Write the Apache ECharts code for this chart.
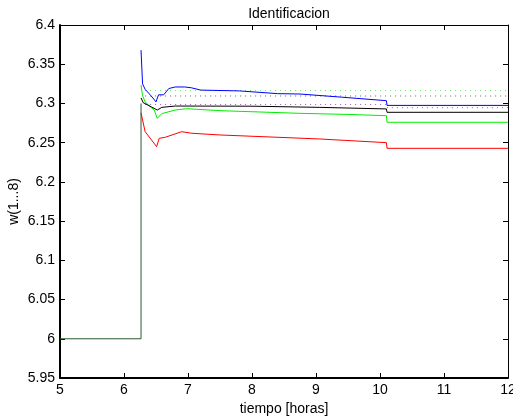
<!DOCTYPE html>
<html>
<head>
<meta charset="UTF-8">
<title>Identificacion</title>
<script src="https://cdn.jsdelivr.net/npm/echarts@6/dist/echarts.min.js"></script>
<style>
html,body{margin:0;padding:0;background:#fff;}
#main{width:513px;height:419px;}
</style>
</head>
<body>
<div id="main"></div>
<script type="text/javascript">
// tramo inicial comun (todas las w arrancan en 6)
var tInicial = [5, 6.266, 6.266];
var wInicial = [6, 6, 6.30];

// w1 (azul)
var tAzul = [6.266, 6.29, 6.33, 6.42, 6.50, 6.52, 6.54, 6.62, 6.70, 6.80, 6.95, 7.05, 7.20, 7.50, 7.80, 8.40, 8.75, 9.40, 10.10, 10.11, 12];
var wAzul = [6.368, 6.325, 6.318, 6.310, 6.302, 6.300, 6.311, 6.311, 6.319, 6.321, 6.321, 6.320, 6.317, 6.3165, 6.316, 6.3125, 6.312, 6.308, 6.3035, 6.2975, 6.2975];

// w2 (verde)
var tVerde = [6.266, 6.29, 6.33, 6.42, 6.47, 6.52, 6.59, 6.80, 6.98, 7.50, 8.75, 9.50, 10.10, 10.11, 12];
var wVerde = [6.3235, 6.310, 6.302, 6.295, 6.292, 6.281, 6.287, 6.2916, 6.2933, 6.2908, 6.2874, 6.286, 6.2844, 6.276, 6.276];

// w3 (rojo)
var tRojo = [6.266, 6.33, 6.43, 6.51, 6.55, 6.65, 6.90, 7.06, 7.50, 9.06, 10.10, 10.11, 12];
var wRojo = [6.288, 6.264, 6.2534, 6.2449, 6.2555, 6.257, 6.264, 6.262, 6.2598, 6.2547, 6.250, 6.2428, 6.2428];

// w4 (negro)
var tNegro = [6.266, 6.30, 6.43, 6.52, 6.59, 6.80, 8.00, 9.06, 10.10, 10.11, 12];
var wNegro = [6.307, 6.301, 6.2955, 6.2916, 6.295, 6.2967, 6.2965, 6.295, 6.293, 6.2887, 6.2887];

// referencias punteadas
var tRef = [6.33, 10.11, 10.11, 12];
var refVerde = [6.3165, 6.3165, 6.3165, 6.3165];
var refGris = [6.3095, 6.3095, 6.3095, 6.3095];
var refMagenta = [6.2987, 6.2987, 6.2946, 6.2946];

function pares(t, w) {
	var out = [];
	for (var i = 0; i < t.length; i++) {
		out.push([t[i], w[i]]);
	}
	return out;
}

function serie(nombre, t, w, color, tipo) {
	return {
		name: nombre,
		type: 'line',
		data: pares(t, w),
		showSymbol: false,
		symbol: 'none',
		animation: false,
		lineStyle: { color: color, width: 1, type: tipo || 'solid' },
		z: 3
	};
}

var fuente = 'Liberation Sans, Arial, Helvetica, sans-serif';

var ejeBase = {
	type: 'value',
	splitLine: { show: false },
	axisLine: { show: true, onZero: false, lineStyle: { color: '#000', width: 1 } },
	axisTick: { show: true, inside: true, length: 5, lineStyle: { color: '#000' } },
	axisLabel: { show: false }
};

var myChart = echarts.init(document.getElementById('main'));
var option = {
	backgroundColor: '#fff',
	animation: false,
	title: {
		text: 'Identificacion',
		left: 284,
		textAlign: 'center',
		top: 2,
		textStyle: { fontFamily: fuente, fontSize: 14, fontWeight: 'normal', color: '#000' }
	},
	grid: { left: 60, top: 25, right: 5, bottom: 41, containLabel: false, outerBoundsMode: 'none' },
	xAxis: [
		{
			type: 'value', min: 5, max: 12, interval: 1, position: 'bottom',
			name: 'tiempo [horas]', nameLocation: 'middle', nameGap: 24, nameMoveOverlap: false,
			nameTextStyle: { fontFamily: fuente, fontSize: 14, color: '#000' },
			splitLine: { show: false },
			axisLine: { show: true, onZero: false, lineStyle: { color: '#000', width: 2 } },
			axisTick: { show: true, inside: true, length: 5, lineStyle: { color: '#000' } },
			axisLabel: { fontFamily: fuente, fontSize: 14, color: '#000', margin: 5 }
		},
		Object.assign({}, ejeBase, { min: 5, max: 12, interval: 1, position: 'top' })
	],
	yAxis: [
		{
			type: 'value', min: 5.95, max: 6.4, interval: 0.05, position: 'left',
			name: 'w(1...8)', nameLocation: 'middle', nameGap: 39, nameRotate: 90, nameMoveOverlap: false,
			nameTextStyle: { fontFamily: fuente, fontSize: 14, color: '#000' },
			splitLine: { show: false },
			axisLine: { show: true, onZero: false, lineStyle: { color: '#000', width: 2 } },
			axisTick: { show: true, inside: true, length: 5, lineStyle: { color: '#000' } },
			axisLabel: {
				fontFamily: fuente, fontSize: 14, color: '#000', margin: 5,
				formatter: function (v) { return String(+v.toFixed(2)); }
			}
		},
		Object.assign({}, ejeBase, { min: 5.95, max: 6.4, interval: 0.05, position: 'right' })
	],
	series: [
		serie('ref verde', tRef, refVerde, '#5fe85f', [1, 4]),
		serie('ref gris', tRef, refGris, '#666666', [1, 4]),
		serie('ref magenta', tRef, refMagenta, '#a455b8', [1, 4]),
		serie('w1', tAzul, wAzul, '#0000ff'),
		serie('w2', tVerde, wVerde, '#00ee00'),
		serie('w3', tRojo, wRojo, '#ff0000'),
		serie('w4', tNegro, wNegro, '#000000'),
		serie('inicial', tInicial, wInicial, '#2a5a2a')
	]
};
myChart.setOption(option);
</script>
</body>
</html>
